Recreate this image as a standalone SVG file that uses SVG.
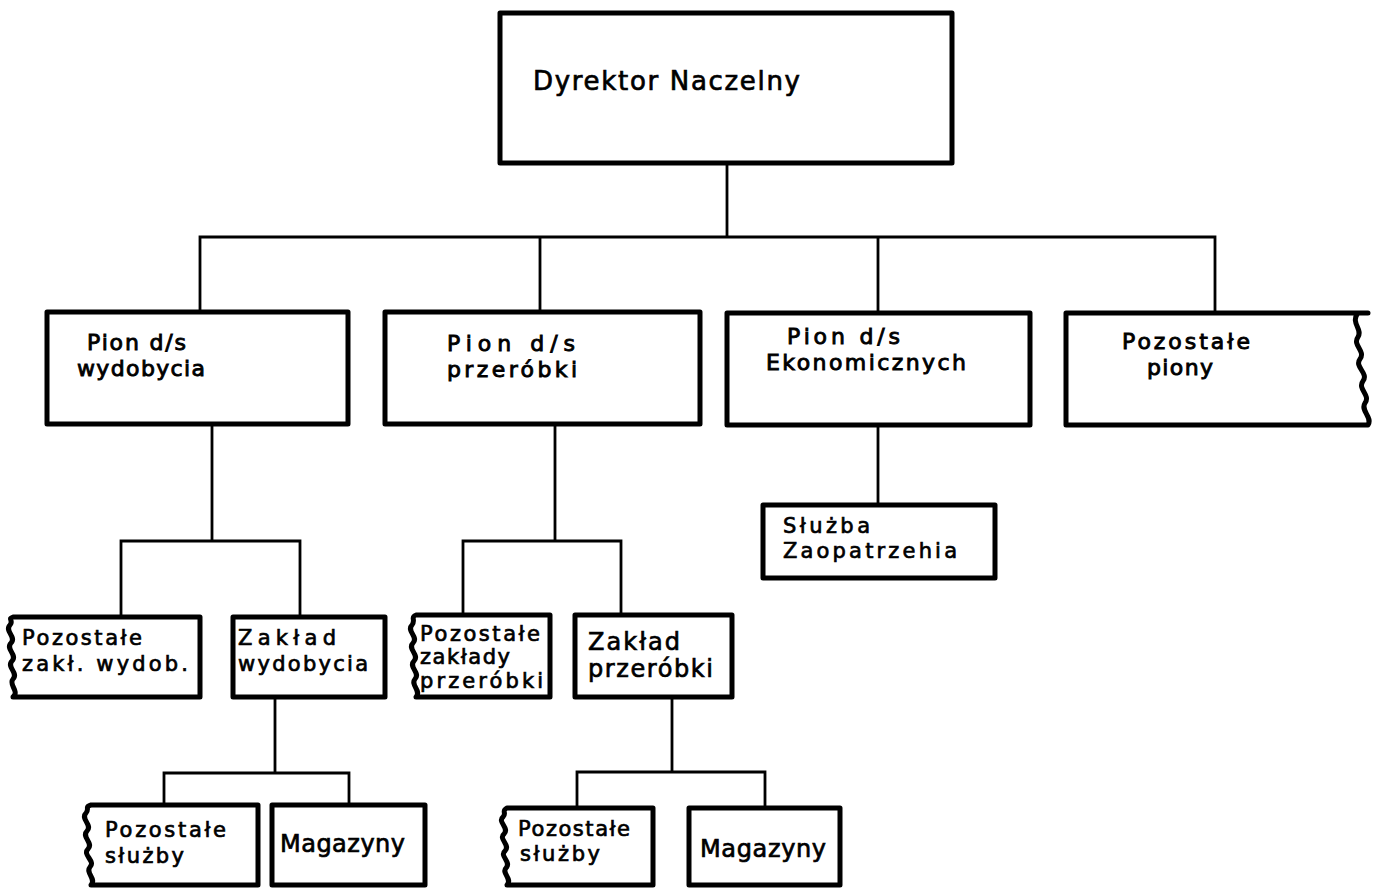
<svg xmlns="http://www.w3.org/2000/svg" width="1379" height="889" viewBox="0 0 1379 889">
<style>
.box{fill:#fff;stroke:#000;stroke-width:5;stroke-linejoin:round;stroke-linecap:round}
.ln{fill:none;stroke:#000;stroke-width:2.8;stroke-linecap:square}
text{font-family:"DejaVu Sans","Liberation Sans",sans-serif;font-size:24px;fill:#000;stroke:#000;stroke-width:0.7}
.big{font-size:26px}
.mid{font-size:22px;stroke-width:0.9}
.sm{font-size:21px}
</style>
<rect width="1379" height="889" fill="#fff"/>
<g id="connectors">
<path class="ln" d="M727,163V237M200,237H1215M200,237V312M540,237V312M878,237V312M1215,237V312"/>
<path class="ln" d="M212,424V541M121,541H300M121,541V617M300,541V617"/>
<path class="ln" d="M275,697V773M164,773H349M164,773V805M349,773V805"/>
<path class="ln" d="M555,424V541M463,541H621M463,541V615M621,541V615"/>
<path class="ln" d="M672,697V772M577,772H765M577,772V808M765,772V808"/>
<path class="ln" d="M878,425V505"/>
</g>
<g id="n-dyrektor">
<rect class="box" x="500" y="13" width="452" height="150"/>
<text class="big" x="533" y="90" textLength="267" lengthAdjust="spacing">Dyrektor  Naczelny</text>
</g>
<g id="n-pion-wydobycia">
<rect class="box" x="47" y="312" width="301" height="112"/>
<text class="mid" x="87" y="350" textLength="99" lengthAdjust="spacing">Pion d/s</text>
<text class="mid" x="77" y="376" textLength="128" lengthAdjust="spacing">wydobycia</text>
</g>
<g id="n-pion-przerobki">
<rect class="box" x="385" y="312" width="315" height="112"/>
<text class="mid" x="447" y="351" textLength="128" lengthAdjust="spacing">Pion  d/s</text>
<text class="mid" x="447" y="377" textLength="130" lengthAdjust="spacing">przeróbki</text>
</g>
<g id="n-pion-ekonomicznych">
<rect class="box" x="727" y="313" width="303" height="112"/>
<text class="mid" x="787" y="344" textLength="113" lengthAdjust="spacing">Pion d/s</text>
<text class="mid" x="766" y="370" textLength="200" lengthAdjust="spacing">Ekonomicznych</text>
</g>
<g id="n-pozostale-piony">
<path class="box" d="M1368,313H1066V425H1368c5,-8 -8,-14 -3,-22c6,-8 -8,-14 -2,-22c6,-8 -9,-14 -3,-22c6,-8 -8,-14 -2,-22c5,-8 -8,-14 0,-24z"/>
<text class="mid" x="1122" y="349" textLength="128" lengthAdjust="spacing">Pozostałe</text>
<text class="mid" x="1147" y="375" textLength="66" lengthAdjust="spacing">piony</text>
</g>
<g id="n-pozostale-zakl-wydob">
<path class="box" d="M13,617H200V697H13c7,-6 -5,-12 0,-18c6,-6 -7,-12 -1,-18c6,-6 -7,-12 -1,-18c6,-6 -7,-12 -1,-18c4,-5 -3,-6 3,-8z"/>
<text class="sm" x="22" y="645" textLength="120" lengthAdjust="spacing">Pozostałe</text>
<text class="sm" x="22" y="671" textLength="166" lengthAdjust="spacing">zakł. wydob.</text>
</g>
<g id="n-zaklad-wydobycia">
<rect class="box" x="233" y="617" width="152" height="80"/>
<text class="sm" x="238" y="645" textLength="98" lengthAdjust="spacing">Zakład</text>
<text class="sm" x="238" y="671" textLength="130" lengthAdjust="spacing">wydobycia</text>
</g>
<g id="n-pozostale-sluzby-1">
<path class="box" d="M91,805H258V885H91c6,-6 -6,-12 -1,-18c6,-6 -8,-12 -2,-18c6,-6 -7,-12 -1,-18c6,-6 -7,-12 -1,-18c4,-5 -2,-6 5,-8z"/>
<text class="sm" x="105" y="837" textLength="121" lengthAdjust="spacing">Pozostałe</text>
<text class="sm" x="105" y="863" textLength="79" lengthAdjust="spacing">służby</text>
</g>
<g id="n-magazyny-1">
<rect class="box" x="272" y="805" width="153" height="80"/>
<text x="280" y="852" textLength="125" lengthAdjust="spacing">Magazyny</text>
</g>
<g id="n-pozostale-zaklady-przerobki">
<path class="box" d="M416,615H550V697H416c6,-6 -6,-12 -1,-18c6,-6 -7,-12 -1,-18c6,-6 -7,-12 -1,-18c6,-6 -7,-12 -1,-18c4,-5 -2,-8 4,-10z"/>
<text class="sm" x="420" y="641" textLength="120" lengthAdjust="spacing" font-size="19">Pozostałe</text>
<text class="sm" x="420" y="664" textLength="90" lengthAdjust="spacing" font-size="19">zakłady</text>
<text class="sm" x="420" y="688" textLength="123" lengthAdjust="spacing" font-size="19">przeróbki</text>
</g>
<g id="n-zaklad-przerobki">
<rect class="box" x="575" y="615" width="157" height="82"/>
<text x="588" y="650" textLength="92" lengthAdjust="spacing">Zakład</text>
<text x="588" y="677" textLength="125" lengthAdjust="spacing">przeróbki</text>
</g>
<g id="n-pozostale-sluzby-2">
<path class="box" d="M507,808H653V885H507c6,-6 -6,-12 -1,-17c6,-6 -7,-12 -1,-17c6,-6 -7,-12 -1,-17c6,-6 -7,-12 -1,-17c4,-4 -2,-6 4,-9z"/>
<text class="sm" x="518" y="836" textLength="112" lengthAdjust="spacing" font-size="20">Pozostałe</text>
<text class="sm" x="520" y="861" textLength="80" lengthAdjust="spacing" font-size="20">służby</text>
</g>
<g id="n-magazyny-2">
<rect class="box" x="689" y="808" width="151" height="77"/>
<text x="700" y="857" textLength="126" lengthAdjust="spacing">Magazyny</text>
</g>
<g id="n-sluzba-zaopatrzenia">
<rect class="box" x="763" y="505" width="232" height="73"/>
<text class="sm" x="783" y="533" textLength="87" lengthAdjust="spacing">Służba</text>
<text class="sm" x="783" y="558" textLength="174" lengthAdjust="spacing">Zaopatrzehia</text>
</g>
</svg>
